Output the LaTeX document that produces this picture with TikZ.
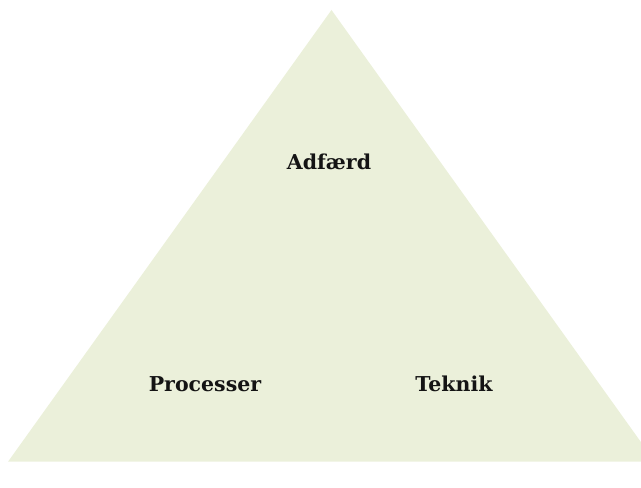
\documentclass[tikz,border=0pt]{standalone}
\usepackage{fontspec}
\setmainfont{DejaVu Serif}
\definecolor{trifill}{RGB}{235,240,218}
\definecolor{labeltext}{RGB}{20,20,20}
\begin{document}
\begin{tikzpicture}[x=1pt,y=1pt,
  lbl/.style={font=\bfseries\fontsize{20.5}{24}\selectfont, text=labeltext, inner sep=0pt}]
\useasboundingbox (0,0) rectangle (641,488);
\clip (0,0) rectangle (641,488);
\fill[trifill] (331.5,478) -- (8,26.3) -- (655,26.3) -- cycle;
\node[lbl] (adfaerd) at (329,326) {Adfærd};
\node[lbl] (processer) at (205,104) {Processer};
\node[lbl] (teknik) at (454,104) {Teknik};
\end{tikzpicture}
\end{document}
